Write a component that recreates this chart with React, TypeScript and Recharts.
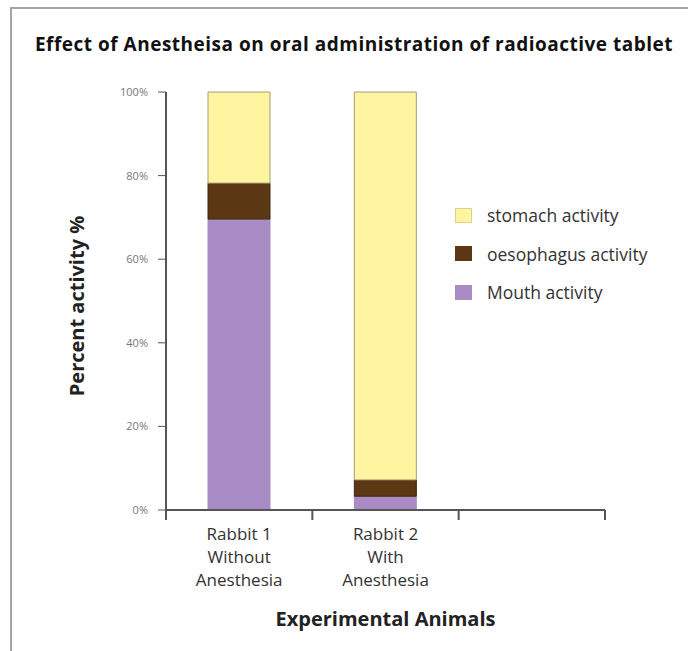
import { BarChart, Bar, XAxis, YAxis, Legend } from "recharts"

const animals = ["Rabbit 1\nWithout\nAnesthesia", "Rabbit 2\nWith\nAnesthesia", ""]
const mouth = [69.6, 3.3, 0]
const oesophagus = [8.6, 3.9, 0]
const stomach = [21.8, 92.8, 0]
const yTicks = [0, 20, 40, 60, 80, 100]
const edgeTicks = [0, 1, 2, 3]

const series = [
  { key: "mouth", name: "Mouth activity", fill: "#a98cc6", stroke: "#a98cc6" },
  { key: "oesophagus", name: "oesophagus activity", fill: "#5c3714", stroke: "#3e2610" },
  { key: "stomach", name: "stomach activity", fill: "#fff5a0", stroke: "#a49d72" },
]

const data = animals.map((name, i) => ({
  name,
  edge: i,
  mouth: mouth[i],
  oesophagus: oesophagus[i],
  stomach: stomach[i],
}))

const font = "'Open Sans', sans-serif"

function CategoryTick(props: any) {
  const { x, y, payload } = props
  const lines = String(payload.value).split("\n")
  return (
    <text x={x} y={y} textAnchor="middle" fontFamily={font} fontSize={17} fill="#333">
      {lines.map((l, i) => (
        <tspan key={i} x={x} dy={i === 0 ? 12 : 23}>
          {l}
        </tspan>
      ))}
    </text>
  )
}

function LegendBox(props: any) {
  const items = [...(props.payload || [])].reverse()
  return (
    <div style={{ fontFamily: font, fontSize: 17.5, color: "#333" }}>
      {items.map((it: any) => {
        const s = series.find((x) => x.name === it.value)
        return (
          <div key={it.value} style={{ display: "flex", alignItems: "center", height: 38.5 }}>
            <span
              style={{
                width: 17,
                height: 15,
                background: s?.fill,
                border: s?.key === "stomach" ? "1px solid #d8d28a" : "none",
                boxSizing: "border-box",
                marginRight: 15,
              }}
            />
            {it.value}
          </div>
        )
      })}
    </div>
  )
}

export default function App() {
  return (
    <div style={{ position: "absolute", left: 0, top: 0, width: 688, height: 651, background: "#fff", overflow: "hidden" }}>
      <div
        style={{
          position: "absolute",
          left: 10,
          top: 7,
          width: 690,
          height: 660,
          borderTop: "2px solid #a5a5a5",
          borderLeft: "2px solid #a5a5a5",
        }}
      />
      <div
        style={{
          position: "absolute",
          top: 31,
          left: 10,
          width: 688,
          textAlign: "center",
          fontFamily: font,
          fontWeight: 700,
          fontSize: 19,
          letterSpacing: 0.5,
          color: "#111",
        }}
      >
        Effect of Anestheisa on oral administration of radioactive tablet
      </div>
      <div
        style={{
          position: "absolute",
          left: 76,
          top: 306,
          transform: "translate(-50%, -50%) rotate(-90deg)",
          whiteSpace: "nowrap",
          fontFamily: font,
          fontWeight: 700,
          fontSize: 20,
          color: "#222",
        }}
      >
        Percent activity %
      </div>
      <div
        style={{
          position: "absolute",
          top: 605,
          left: 166,
          width: 439,
          textAlign: "center",
          fontFamily: font,
          fontWeight: 700,
          fontSize: 20,
          color: "#222",
        }}
      >
        Experimental Animals
      </div>
      <div style={{ position: "absolute", left: 0, top: 0 }}>
        <BarChart width={688} height={651} data={data} margin={{ top: 92, right: 83, left: 106, bottom: 61 }}>
          <XAxis
            xAxisId="b_cat"
            dataKey="name"
            height={70}
            axisLine={false}
            tickLine={false}
            interval={0}
            tick={<CategoryTick />}
          />
          <XAxis
            xAxisId="a_edge"
            type="number"
            dataKey="edge"
            domain={[0, 3]}
            ticks={edgeTicks}
            allowDataOverflow
            height={10}
            tickSize={10}
            tickFormatter={() => ""}
            axisLine={{ stroke: "#555", strokeWidth: 2 }}
            tickLine={{ stroke: "#555", strokeWidth: 2 }}
          />
          <YAxis
            width={60}
            domain={[0, 100]}
            ticks={yTicks}
            tickSize={8}
            tickMargin={10}
            tickFormatter={(v) => `${v}%`}
            tick={{ fontFamily: font, fontSize: 11, fill: "#777" }}
            axisLine={{ stroke: "#555", strokeWidth: 2 }}
            tickLine={{ stroke: "#555", strokeWidth: 1 }}
          />
          <Legend
            layout="vertical"
            align="center"
            verticalAlign="middle"
            content={<LegendBox />}
            wrapperStyle={{ position: "absolute", left: 455, top: 196, width: 230 }}
          />
          {series.map((s) => (
            <Bar
              key={s.key}
              xAxisId="b_cat"
              dataKey={s.key}
              name={s.name}
              stackId="a"
              fill={s.fill}
              stroke={s.stroke}
              strokeWidth={1}
              barSize={62}
              isAnimationActive={false}
            />
          ))}
        </BarChart>
      </div>
    </div>
  )
}
